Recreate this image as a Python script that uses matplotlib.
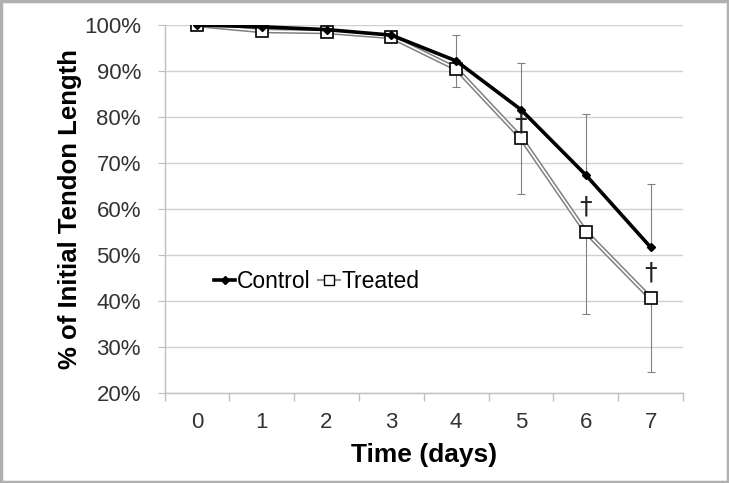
import numpy as np
import matplotlib.pyplot as plt
from matplotlib.ticker import FuncFormatter
from matplotlib.lines import Line2D

plt.rcParams['font.family'] = ['Liberation Sans', 'DejaVu Sans']

days = [0, 1, 2, 3, 4, 5, 6, 7]
control = [100.0, 99.6, 99.0, 97.8, 92.2, 81.6, 67.4, 51.7]
treated = [100.0, 98.7, 98.5, 97.4, 90.5, 75.5, 55.0, 40.6]
# control bars go up, treated bars go down
control_err = [0.0, 0.3, 0.3, 0.4, 5.6, 10.1, 13.3, 13.8]
treated_err = [0.0, 0.4, 0.4, 0.5, 4.0, 12.2, 17.9, 16.1]

# significance marks (dagger) for treated
dagger_days = [5, 6, 7]
dagger_y = [78.5, 60.5, 46.1]

fig = plt.figure(figsize=(7.29, 4.83), dpi=100)
ax = fig.add_axes([164.5 / 729, 1 - 393 / 483, (683 - 164.5) / 729, (393 - 25) / 483])

# error bars
zeros = [0] * len(days)
ax.errorbar(days, control, yerr=[zeros, control_err], fmt='none',
            ecolor='#808080', elinewidth=0.8, capsize=3, capthick=0.8, zorder=2)
ax.errorbar(days, treated, yerr=[treated_err, zeros], fmt='none',
            ecolor='#808080', elinewidth=0.8, capsize=3, capthick=0.8, zorder=2)

# treated: grey outlined white line with white squares
ax.plot(days, treated, color='#808080', lw=3.4, zorder=3, solid_capstyle='butt')
ax.plot(days, treated, color='white', lw=1.2, zorder=3.1)
ax.plot(days, treated, ls='none', marker='s', ms=9, mfc='white', mec='black',
        mew=1.2, zorder=4)

# control: black line with small diamonds
ax.plot(days, control, color='black', lw=2.6, marker='D', ms=4.5,
        mfc='black', mec='black', zorder=5)

for d, y in zip(dagger_days, dagger_y):
    ax.text(d, y, '\u2020', ha='center', va='center', fontsize=18,
            family='DejaVu Sans', color='#222222', zorder=7)

h1 = Line2D([], [], color='black', lw=2.6, marker='D', ms=4.5)
h2 = Line2D([], [], color='#909090', lw=1.5, marker='s', ms=7, mfc='white', mec='black')
leg = ax.legend([h1, h2], ['Control', 'Treated'], loc='center left',
                bbox_to_anchor=(0.055, 0.303), ncol=2, frameon=False,
                fontsize=16.5, handlelength=0.95, handletextpad=0.05, columnspacing=0.35)

ax.set_xlim(-0.5, 7.5)
ax.set_ylim(20, 100)
ax.set_xticks(days)
ax.set_xticks(np.arange(-0.5, 8, 1), minor=True)
ax.set_yticks(np.arange(20, 101, 10))
ax.yaxis.set_major_formatter(FuncFormatter(lambda v, p: f'{v:.0f}%'))
ax.grid(axis='y', color='#d0d0d0', lw=1.0)
ax.set_axisbelow(True)

for s in ['top', 'right']:
    ax.spines[s].set_visible(False)
for s in ['left', 'bottom']:
    ax.spines[s].set_color('#c0c0c0')
    ax.spines[s].set_linewidth(1.0)

ax.tick_params(axis='x', which='major', length=0, labelsize=16, pad=14)
ax.tick_params(axis='x', which='minor', length=6, color='#c0c0c0', width=1.0)
ax.tick_params(axis='y', length=5, color='#c0c0c0', labelsize=16, pad=12)
for t in ax.get_xticklabels() + ax.get_yticklabels():
    t.set_color('#333333')

ax.set_xlabel('Time (days)', fontsize=19, fontweight='bold', labelpad=7)
ax.set_ylabel('% of Initial Tendon Length', fontsize=18.5, fontweight='bold', labelpad=1)

# grey border around the whole picture
fig.patches.append(plt.Rectangle((0.0015, 0.002), 0.997, 0.996, transform=fig.transFigure,
                                 fill=False, edgecolor='#b0b0b0', lw=2.5))

fig.savefig('out.png', dpi=100)
